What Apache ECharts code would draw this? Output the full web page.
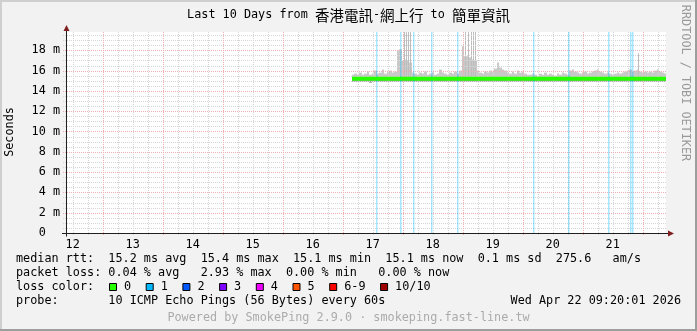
<!DOCTYPE html>
<html><head><meta charset="utf-8">
<script src="https://cdn.jsdelivr.net/npm/echarts@6/dist/echarts.min.js"></script>
<style>html,body{margin:0;padding:0;background:#f2f2f2}#c{width:697px;height:331px}</style>
</head><body><div id="c"></div>
<script>
// ================= DATA (hours counted from Apr 12 00:00) =================
const WINDOW_START_H = 9.3336;   // Sun Apr 12 09:20:01
const WINDOW_END_H = 249.3336;   // Wed Apr 22 09:20:01
const SAMPLE_START_H = 123.6;    // first stored sample (Apr 17 ~03:36)
const SAMPLE_STEP_H = 1;         // one sample per hour

// upper edge of the smoke (ms)
const smokeHigh = [
  15.6,15.7,15.6,15.8,15.6,15.7,15.9,15.6,15.7,16.0,15.7,15.8,16.1,15.7,15.9,16.0,15.8,15.9,
  18.0,18.1,17.0,17.1,17.0,16.8,15.8,
  15.7,15.6,15.8,15.7,15.9,15.6,15.7,15.8,15.6,15.7,16.1,15.8,15.7,15.6,15.8,15.7,15.9,15.7,16.0,
  18.4,17.4,17.4,17.3,17.1,17.0,16.0,
  15.8,15.7,15.9,15.8,16.0,15.9,16.2,16.8,16.3,16.1,16.0,15.8,15.7,15.9,15.7,16.0,15.8,15.9,15.7,15.6,
  15.6,15.7,15.6,15.5,15.7,15.6,15.8,15.6,15.7,15.6,15.5,15.7,15.6,15.8,15.7,15.6,16.0,16.1,15.9,15.8,
  15.7,15.8,15.9,15.7,15.8,15.9,16.0,16.1,15.9,15.8,15.7,15.8,15.7,15.6,15.7,15.8,15.7,15.8,15.9,16.0,
  16.1,15.9,16.0,16.1,15.9,15.8,15.9,15.8,15.9,15.8,16.0,16.1,15.9,15.8,15.7
];
// lower edge of the smoke (ms)
const smokeLow = [
  14.9,14.9,14.9,14.9,14.9,14.9,14.9,14.8,14.9,14.9,14.9,14.9,14.9,14.9,14.9,14.9,14.9,14.9,
  14.9,14.9,14.9,14.9,14.9,14.9,14.9,
  14.9,14.9,14.9,14.9,14.9,14.9,14.9,14.9,14.9,14.9,14.9,14.9,14.9,14.9,14.9,14.9,14.9,14.9,14.9,
  14.9,14.9,14.9,14.9,14.9,14.9,14.9,
  14.9,14.9,14.9,14.9,14.9,14.9,14.9,14.9,14.9,14.9,14.9,14.9,14.9,14.9,14.9,14.9,14.9,14.9,14.9,14.9,
  14.9,14.9,14.9,14.9,14.9,14.9,14.9,14.9,14.9,14.9,14.9,14.9,14.9,14.9,14.9,14.9,14.9,14.9,14.9,14.9,
  14.9,14.9,14.9,14.9,14.9,14.9,14.9,14.9,14.9,14.9,14.9,14.9,14.9,14.9,14.9,14.9,14.9,14.9,14.9,14.9,
  14.9,14.9,14.9,14.9,14.9,14.9,14.9,14.9,14.9,14.9,14.9,14.9,14.9,14.9,14.9
];
// median rtt (ms)
const medianRtt = [
  15.2,15.2,15.2,15.2,15.2,15.2,15.2,15.2,15.2,15.2,15.2,15.2,15.2,15.2,15.2,15.2,15.2,15.2,
  15.2,15.2,15.2,15.2,15.2,15.2,15.2,
  15.2,15.2,15.2,15.2,15.2,15.2,15.2,15.2,15.2,15.2,15.2,15.2,15.2,15.2,15.2,15.2,15.2,15.2,15.2,
  15.2,15.2,15.2,15.2,15.2,15.2,15.2,
  15.2,15.2,15.2,15.2,15.2,15.2,15.2,15.2,15.2,15.2,15.2,15.2,15.2,15.2,15.2,15.2,15.2,15.2,15.2,15.2,
  15.2,15.2,15.2,15.2,15.2,15.2,15.2,15.2,15.2,15.2,15.2,15.2,15.2,15.2,15.2,15.2,15.2,15.2,15.2,15.2,
  15.2,15.2,15.2,15.2,15.2,15.2,15.2,15.2,15.2,15.2,15.2,15.2,15.2,15.2,15.2,15.2,15.2,15.2,15.2,15.2,
  15.2,15.2,15.2,15.2,15.2,15.2,15.2,15.2,15.2,15.2,15.2,15.2,15.2,15.2,15.2
];
// single slow pings drawn as thin smoke spikes
const spikeHours = [144.4, 145.3, 146.3, 147.0, 168.9, 170.2, 171.2, 172.0, 173.0, 238.1];
const spikeTops  = [21, 21, 21, 21, 21, 21, 21, 21, 21, 17.7];
// loss events (number of lost pings out of 10)
const lossHours  = [133.4, 143.0, 148.1, 155.5, 165.8, 196.2, 210.1, 226.1, 234.9, 235.9];
const lossCounts = [1, 1, 1, 1, 1, 1, 1, 1, 1, 1];

// axis ticks
const xTickHours  = [12, 36, 60, 84, 108, 132, 156, 180, 204, 228];
const xTickLabels = ['12','13','14','15','16','17','18','19','20','21'];
const yTickValues = [0, 2, 4, 6, 8, 10, 12, 14, 16, 18];
const yTickLabels = ['0','2 m','4 m','6 m','8 m','10 m','12 m','14 m','16 m','18 m'];
const Y_MAX = 19.8;

// legend
const lossLegendLabels = ['0','1','2','3','4','5','6-9','10/10'];
const lossLegendColors = ['#26ff00','#00b8ff','#0059ff','#7e00ff','#ee00ff','#ff5500','#ff0000','#a10000'];
const statLines = [
  'median rtt:  15.2 ms avg  15.4 ms max  15.1 ms min  15.1 ms now  0.1 ms sd  275.6   am/s',
  'packet loss: 0.04 % avg   2.93 % max  0.00 % min   0.00 % now',
  'loss color:',
  'probe:       10 ICMP Echo Pings (56 Bytes) every 60s'
];
const titleParts = ['Last 10 Days from ', '香港電訊', '-', '網上行', ' to ', '簡單資訊'];
const dateText = 'Wed Apr 22 09:20:01 2026';
const poweredText = 'Powered by SmokePing 2.9.0 · smokeping.fast-line.tw';
const sideText = 'RRDTOOL / TOBI OETIKER';
const yAxisTitle = 'Seconds';

// ================= LAYOUT / STYLE =================
const W = 697, H = 331;
const G = {left: 66, top: 32, right: 31, bottom: 98};
const FONT = '"DejaVu Sans Mono", monospace';
const FS = 11.8;
const CW = 7.1; // monospace advance
const MINOR = '#d6d6d6', MAJOR = '#eeb0b0';

function lossColor(n) {
  if (n <= 5) return lossLegendColors[n];
  if (n < 10) return lossLegendColors[6];
  return lossLegendColors[7];
}

// samples table
const samples = medianRtt.map((m, i) => [SAMPLE_START_H + i * SAMPLE_STEP_H, smokeLow[i], m, smokeHigh[i]]);
const spikes = spikeHours.map((h, i) => {
  const idx = Math.floor((h - SAMPLE_START_H) / SAMPLE_STEP_H);
  return [h, medianRtt[idx], spikeTops[i]];
});
const losses = lossHours.map((h, i) => {
  const idx = Math.floor((h - SAMPLE_START_H) / SAMPLE_STEP_H);
  return [h, medianRtt[idx], lossCounts[i]];
});

// grid lines
const vMinor = [], vMajor = [];
for (let h = 0; h <= WINDOW_END_H; h += 6) {
  if (h < WINDOW_START_H) continue;
  (h % 24 === 0 ? vMajor : vMinor).push([h, 0]);
}
const hMinor = [], hMajor = [];
for (let k = 1; k * 0.5 < Y_MAX; k++) {
  const v = k * 0.5;
  (k % 4 === 0 ? hMajor : hMinor).push([WINDOW_START_H, v]);
}

function vLineRender(color, ext) {
  return function (params, api) {
    const cs = params.coordSys;
    const x = Math.round(api.coord([api.value(0), 0])[0]) + 0.5;
    return {type: 'line', silent: true,
      shape: {x1: x, y1: cs.y, x2: x, y2: cs.y + cs.height + ext},
      style: {stroke: color, lineWidth: 1, lineDash: [1, 1]}};
  };
}
function hLineRender(color, ext) {
  return function (params, api) {
    const cs = params.coordSys;
    const y = Math.round(api.coord([WINDOW_START_H, api.value(1)])[1]) + 0.5;
    return {type: 'line', silent: true,
      shape: {x1: cs.x - ext, y1: y, x2: cs.x + cs.width, y2: y},
      style: {stroke: color, lineWidth: 1, lineDash: [1, 1]}};
  };
}
function gridSeries(data, render, z) {
  return {type: 'custom', data, renderItem: render, z, silent: true, clip: false,
    encode: {x: 0, y: 1}};
}

function renderSmoke(params, api) {
  const t = api.value(0);
  const x0 = Math.round(api.coord([t, 0])[0]);
  const x1 = Math.round(api.coord([t + SAMPLE_STEP_H, 0])[0]);
  const yLo = api.coord([t, api.value(1)])[1];
  const yMd = api.coord([t, api.value(2)])[1];
  const yHi = api.coord([t, api.value(3)])[1];
  return {type: 'group', children: [
    {type: 'rect', shape: {x: x0, y: yHi, width: x1 - x0, height: yMd - yHi}, style: {fill: '#c9c9c9'}},
    {type: 'rect', shape: {x: x0, y: yMd, width: x1 - x0, height: yLo - yMd}, style: {fill: '#9a9a9a'}}
  ]};
}
function renderSpike(params, api) {
  const t = api.value(0);
  const x0 = Math.round(api.coord([t, 0])[0]);
  const yMd = api.coord([t, api.value(1)])[1];
  const yHi = api.coord([t, api.value(2)])[1];
  return {type: 'rect', shape: {x: x0, y: yHi, width: 1, height: yMd - yHi}, style: {fill: '#bdbdbd'}};
}
function renderMedian(params, api) {
  const t = api.value(0);
  const x0 = Math.round(api.coord([t, 0])[0]);
  const x1 = Math.round(api.coord([t + SAMPLE_STEP_H, 0])[0]);
  const y = api.coord([t, api.value(2)])[1];
  return {type: 'rect', shape: {x: x0, y: y - 2, width: x1 - x0, height: 4}, style: {fill: lossLegendColors[0]}};
}
function renderLoss(params, api) {
  const cs = params.coordSys;
  const t = api.value(0);
  const x = Math.round(api.coord([t, 0])[0]);
  const y = api.coord([t, api.value(1)])[1];
  const c = lossColor(api.value(2));
  return {type: 'group', children: [
    {type: 'rect', shape: {x: x, y: cs.y, width: 1.5, height: cs.height}, style: {fill: c, opacity: 0.35}},
    {type: 'rect', shape: {x: x, y: y - 2, width: 2, height: 4}, style: {fill: c}}
  ]};
}

// ================= GRAPHICS (texts, frame) =================
const graphics = [];
// frame shading
graphics.push({type: 'rect', shape: {x: 0, y: 0, width: W, height: 2}, style: {fill: '#cfcfcf'}, silent: true});
graphics.push({type: 'rect', shape: {x: 0, y: 0, width: 2, height: H}, style: {fill: '#cfcfcf'}, silent: true});
graphics.push({type: 'rect', shape: {x: 0, y: H - 2, width: W, height: 2}, style: {fill: '#9e9e9e'}, silent: true});
graphics.push({type: 'rect', shape: {x: W - 2, y: 0, width: 2, height: H}, style: {fill: '#9e9e9e'}, silent: true});

function text(x, y, str, o) {
  o = o || {};
  return {type: 'text', x, y, rotation: o.rotation || 0, silent: true, z: 10,
    style: {text: str, font: FS + 'px ' + FONT, fill: o.fill || '#000',
      align: o.align || 'left', textAlign: o.align || 'left',
      verticalAlign: 'middle', textVerticalAlign: 'middle'}};
}
// title
const rich = {a: {fontFamily: FONT, fontSize: FS, fill: '#000', color: '#000'},
              c: {fontFamily: '"Noto Sans CJK TC"', fontSize: 14.5, fill: '#000', color: '#000'}};
const titleRich = titleParts.map(p => (/[\u3400-\u9fff]/.test(p) ? '{c|' : '{a|') + p + '}').join('');
graphics.push({type: 'text', x: W / 2, y: 15, silent: true, z: 10,
  style: {text: titleRich, rich, align: 'center', textAlign: 'center', verticalAlign: 'middle', textVerticalAlign: 'middle'}});
// axis title & side mark
graphics.push(text(10, 132, yAxisTitle, {align: 'center', rotation: Math.PI / 2}));
graphics.push(text(685, 83, sideText, {align: 'center', rotation: -Math.PI / 2, fill: '#9a9a9a'}));
// stats lines
const rowY = [259.3, 272.7, 287.3, 300.7];
statLines.forEach((s, i) => graphics.push(text(16, rowY[i], s)));
graphics.push(text(681, rowY[3], dateText, {align: 'right'}));
graphics.push(text(W / 2, 317.5, poweredText, {align: 'center', fill: '#ababab'}));
// loss colour legend
let lx = 109;
lossLegendLabels.forEach((lab, i) => {
  graphics.push({type: 'rect', silent: true, z: 10, shape: {x: lx + 0.5, y: 283.5, width: 7, height: 7},
    style: {fill: lossLegendColors[i], stroke: '#000', lineWidth: 1}});
  graphics.push(text(lx + 15, rowY[2], lab));
  lx += 15 + lab.length * CW + 14.6;
});
// axis extensions and arrows
const ax = G.left + 0.5, ay = H - G.bottom + 0.5, axEnd = W - G.right;
graphics.push({type: 'line', silent: true, z: 9, shape: {x1: ax, y1: G.top, x2: ax, y2: 30}, style: {stroke: '#1f1f1f', lineWidth: 1}});
graphics.push({type: 'line', silent: true, z: 9, shape: {x1: ax, y1: ay, x2: ax, y2: ay + 3}, style: {stroke: '#1f1f1f', lineWidth: 1}});
graphics.push({type: 'line', silent: true, z: 9, shape: {x1: G.left - 4, y1: ay, x2: G.left, y2: ay}, style: {stroke: '#1f1f1f', lineWidth: 1}});
graphics.push({type: 'line', silent: true, z: 9, shape: {x1: axEnd, y1: ay, x2: axEnd + 3, y2: ay}, style: {stroke: '#1f1f1f', lineWidth: 1}});
graphics.push({type: 'polygon', silent: true, z: 9, shape: {points: [[ax - 3, 31], [ax + 3, 31], [ax, 25]]}, style: {fill: '#801f1f'}});
graphics.push({type: 'polygon', silent: true, z: 9, shape: {points: [[axEnd + 2, ay - 3], [axEnd + 2, ay + 3], [axEnd + 8, ay]]}, style: {fill: '#801f1f'}});

// ================= CHART =================
const chart = echarts.init(document.getElementById('c'), null, {renderer: 'canvas'});
chart.setOption({
  animation: false,
  backgroundColor: '#f2f2f2',
  grid: {left: G.left, right: G.right, top: G.top, bottom: G.bottom, show: true,
    backgroundColor: '#ffffff', borderWidth: 0, containLabel: false},
  xAxis: {
    type: 'value', min: WINDOW_START_H, max: WINDOW_END_H,
    splitLine: {show: false}, axisTick: {show: false},
    axisLine: {show: true, onZero: false, lineStyle: {color: '#1f1f1f', width: 1}},
    axisLabel: {customValues: xTickHours, margin: 6, color: '#000', fontFamily: FONT, fontSize: FS,
      formatter: v => xTickLabels[xTickHours.indexOf(v)] || ''}
  },
  yAxis: {
    type: 'value', min: 0, max: Y_MAX,
    splitLine: {show: false}, axisTick: {show: false},
    axisLine: {show: true, lineStyle: {color: '#1f1f1f', width: 1}},
    axisLabel: {customValues: yTickValues, margin: 6, color: '#000', fontFamily: FONT, fontSize: FS,
      formatter: v => {
        const l = yTickLabels[yTickValues.indexOf(v)];
        if (l === undefined) return '';
        return l.indexOf(' ') >= 0 ? l : l + '  ';
      }}
  },
  series: [
    {type: 'custom', name: 'smoke', data: samples, renderItem: renderSmoke, z: 2, clip: true, silent: true, encode: {x: 0, y: 3}},
    {type: 'custom', name: 'spikes', data: spikes, renderItem: renderSpike, z: 2, clip: true, silent: true, encode: {x: 0, y: 2}},
    gridSeries(hMinor, hLineRender(MINOR, 3), 3),
    gridSeries(vMinor, vLineRender(MINOR, 3), 3),
    gridSeries(hMajor, hLineRender(MAJOR, 3), 4),
    gridSeries(vMajor, vLineRender(MAJOR, 3), 4),
    {type: 'custom', name: 'loss', data: losses, renderItem: renderLoss, z: 5, clip: true, silent: true, encode: {x: 0, y: 1}},
    {type: 'custom', name: 'median', data: samples, renderItem: renderMedian, z: 6, clip: true, silent: true, encode: {x: 0, y: 2}}
  ],
  graphic: graphics
});
</script>
</body></html>
